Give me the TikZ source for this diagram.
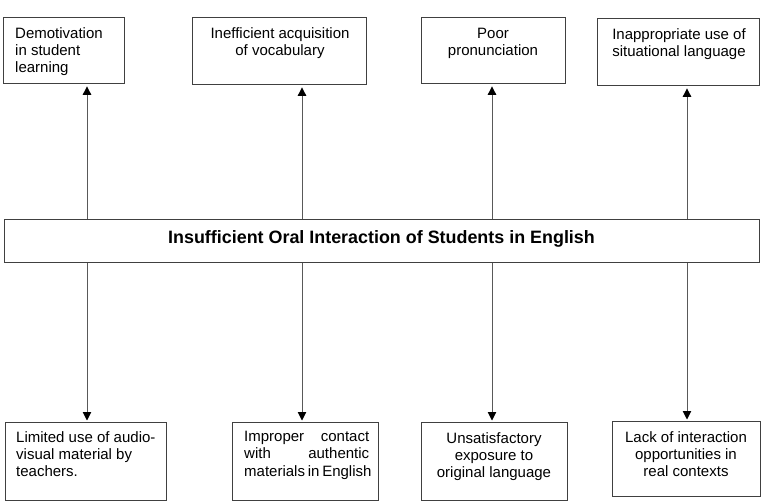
\documentclass[tikz,border=0pt]{standalone}
\usepackage{fontspec}
\setmainfont{Liberation Sans}
\usetikzlibrary{arrows.meta}
\begin{document}
\begin{tikzpicture}[x=1pt,y=-1pt,
  box/.style={draw=black!75,line width=0.9pt,inner sep=0pt,anchor=north west},
  txt/.style={inner sep=0pt,anchor=north,font=\fontsize{15}{17.4}\selectfont},
  arr/.style={draw=black!65,line width=0.9pt,-{Triangle[length=8.5pt,width=8.5pt,color=black]}}]
\useasboundingbox (0,0) rectangle (761,501);
% top boxes
\node[box,minimum width=121pt,minimum height=66pt] (t1) at (3,17) {};
\node[box,minimum width=174pt,minimum height=67pt] (t2) at (192,17) {};
\node[box,minimum width=144pt,minimum height=66pt] (t3) at (421,17) {};
\node[box,minimum width=162pt,minimum height=67pt] (t4) at (597,18) {};
\node[txt,anchor=north west,align=left] (t1x) at (15,27) {Demotivation\\in student\\learning};
\node[txt,align=center] (t2x) at (280,27) {Inefficient acquisition\\of vocabulary};
\node[txt,align=center] (t3x) at (493,28) {Poor\\pronunciation};
\node[txt,align=center] (t4x) at (679,28) {Inappropriate use of\\situational language};
% center
\node[box,minimum width=755pt,minimum height=43pt] (c) at (4,219) {};
\node[inner sep=0pt,anchor=base,font=\fontsize{17.9}{21}\selectfont\bfseries] (cx) at (381.5,243) {Insufficient Oral Interaction of Students in English};
% bottom boxes
\node[box,minimum width=161pt,minimum height=78pt] (b1) at (5,422) {};
\node[box,minimum width=146pt,minimum height=78pt] (b2) at (232,422) {};
\node[box,minimum width=146pt,minimum height=78pt] (b3) at (421,422) {};
\node[box,minimum width=148pt,minimum height=75pt] (b4) at (612,421) {};
\node[txt,anchor=north west,align=left] (b1x) at (16,431) {Limited use of audio-\\visual material by\\teachers.};
\node[txt,anchor=north west,align=left] (b2x) at (244,431) {\makebox[125pt][s]{Improper contact}\\\makebox[125pt][s]{with authentic}\\\makebox[125pt][s]{materials in English}};
\node[txt,align=center] (b3x) at (494,432) {Unsatisfactory\\exposure to\\original language};
\node[txt,align=center] (b4x) at (686,431) {Lack of interaction\\opportunities in\\real contexts};
% arrow x positions
\coordinate (a1) at (87,0);
\coordinate (a2) at (302,0);
\coordinate (a3) at (492,0);
\coordinate (a4) at (687,0);
% arrows up
\draw[arr,shorten >=2.5pt] (c.north -| a1) -- (t1.south -| a1);
\draw[arr,shorten >=2.5pt] (c.north -| a2) -- (t2.south -| a2);
\draw[arr,shorten >=2.5pt] (c.north -| a3) -- (t3.south -| a3);
\draw[arr,shorten >=2.5pt] (c.north -| a4) -- (t4.south -| a4);
% arrows down
\draw[arr,shorten >=1.5pt] (c.south -| a1) -- (b1.north -| a1);
\draw[arr,shorten >=1.5pt] (c.south -| a2) -- (b2.north -| a2);
\draw[arr,shorten >=1.5pt] (c.south -| a3) -- (b3.north -| a3);
\draw[arr,shorten >=1.5pt] (c.south -| a4) -- (b4.north -| a4);
\end{tikzpicture}
\end{document}
